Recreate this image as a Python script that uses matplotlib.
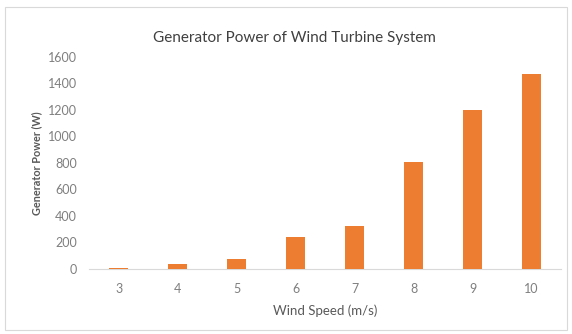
import matplotlib
matplotlib.use("Agg")
import matplotlib.pyplot as plt
from matplotlib.patches import Rectangle

# ── Data ───────────────────────────────────────────────────────
wind_speed = ["3", "4", "5", "6", "7", "8", "9", "10"]
gen_power  = [10, 38, 78, 240, 325, 805, 1198, 1470]   # W
y_ticks    = [0, 200, 400, 600, 800, 1000, 1200, 1400, 1600]

BAR_COLOUR  = "#ED7D31"
TEXT_COLOUR = "#7F7F7F"
LABEL_COLOUR = "#595959"

plt.rcParams["font.family"] = ["Lato", "DejaVu Sans"]

fig = plt.figure(figsize=(5.72, 3.34), dpi=100)
ax = fig.add_axes([0.156, 0.195, 0.825, 0.635])

x = range(len(wind_speed))
ax.bar(x, gen_power, width=0.33, color=BAR_COLOUR, zorder=3)

ax.set_xlim(-0.5, len(wind_speed) - 0.5)
ax.set_ylim(0, 1600)
ax.set_xticks(list(x))
ax.set_xticklabels(wind_speed)
ax.set_yticks(y_ticks)
ax.tick_params(axis="both", length=0, colors=TEXT_COLOUR, labelsize=9)
ax.tick_params(axis="x", pad=10)
ax.tick_params(axis="y", pad=9)

for side in ["top", "right", "left"]:
    ax.spines[side].set_visible(False)
ax.spines["bottom"].set_color("#D9D9D9")
ax.spines["bottom"].set_linewidth(0.8)

ax.set_xlabel("Wind Speed (m/s)", fontsize=9.5, color=LABEL_COLOUR, labelpad=7)
ax.set_ylabel("Generator Power (W)", fontsize=7.8, color=LABEL_COLOUR,
              fontweight="bold", labelpad=4)
fig.text(0.515, 0.887, "Generator Power of Wind Turbine System",
         ha="center", va="center", fontsize=11, color="#404040")

# chart area border
fig.patches.append(Rectangle((0.008, 0.012), 0.984, 0.966, transform=fig.transFigure,
                             fill=False, edgecolor="#D9D9D9", linewidth=0.8))

fig.savefig("out.png", dpi=100)
